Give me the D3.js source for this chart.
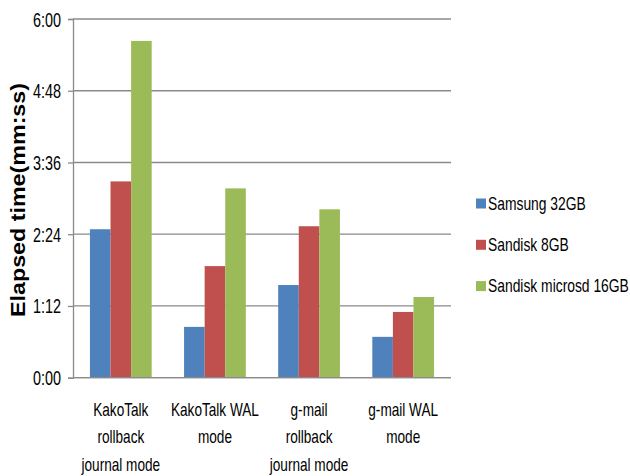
<!DOCTYPE html>
<html><head><meta charset="utf-8">
<script src="https://cdn.jsdelivr.net/npm/d3@7/dist/d3.min.js"></script>
<style>body{margin:0;background:#fff}svg{display:block}</style>
</head><body>
<svg id="c" width="630" height="476"></svg>
<script>
const categories = [
  ["KakoTalk","rollback","journal mode"],
  ["KakoTalk WAL","mode"],
  ["g-mail","rollback","journal mode"],
  ["g-mail WAL","mode"]
];
const seriesNames = ["Samsung 32GB","Sandisk 8GB","Sandisk microsd 16GB"];
// elapsed seconds per category
const samsung32 = [149, 51, 93, 41];
const sandisk8 = [197, 112, 152, 66];
const microsd16 = [338, 190, 169, 81];
const seriesValues = [samsung32, sandisk8, microsd16];
const colors = ["#4F81BD","#C0504D","#9BBB59"];
const yTicks = [0, 72, 144, 216, 288, 360];
const yTickLabels = ["0:00","1:12","2:24","3:36","4:48","6:00"];
const yTitle = "Elapsed time(mm:ss)";

const font = "'Liberation Sans',Arial,sans-serif";
const svg = d3.select("#c");
const L = 73, R = 451, T = 19, B = 377.7;

function condense(sel, f) {
  sel.each(function () {
    const w = this.getComputedTextLength();
    d3.select(this).attr("textLength", w * f).attr("lengthAdjust", "spacingAndGlyphs");
  });
}

const x0 = d3.scaleBand().domain(d3.range(categories.length)).range([L, R])
  .paddingInner(0.344).paddingOuter(0.18);
const x1 = d3.scaleBand().domain(d3.range(seriesNames.length)).range([0, x0.bandwidth()]);
const y = d3.scaleLinear().domain([0, 360]).range([B, T]);

// gridlines
svg.append("g").selectAll("line").data(yTicks).join("line")
  .attr("x1", L).attr("x2", R).attr("y1", d => y(d)).attr("y2", d => y(d))
  .attr("stroke", "#8a8a8a").attr("stroke-width", 1.3);

// bars
const g = svg.append("g").selectAll("g").data(categories).join("g")
  .attr("transform", (d, i) => `translate(${x0(i)},0)`);
g.selectAll("rect").data((d, i) => seriesValues.map((s, k) => ({k, v: s[i]}))).join("rect")
  .attr("x", d => x1(d.k)).attr("width", x1.bandwidth())
  .attr("y", d => y(d.v)).attr("height", d => y(0) - y(d.v))
  .attr("fill", d => colors[d.k]);

// y axis
const yAxis = d3.axisLeft(y).tickValues(yTicks).tickFormat((d, i) => yTickLabels[i]).tickSize(5).tickPadding(7);
const ya = svg.append("g").attr("transform", `translate(${L},0)`).call(yAxis);
ya.select(".domain").attr("stroke", "#8a8a8a").attr("stroke-width", 1.3);
ya.selectAll(".tick line").attr("stroke", "#8a8a8a").attr("stroke-width", 1.3);
ya.selectAll(".tick text").attr("font-family", font).attr("font-size", 19.5).attr("fill", "#000").attr("dy", "0.36em")
  .call(condense, 0.8 * 18 / 19.5);

// x axis line
svg.append("line").attr("x1", L).attr("x2", R).attr("y1", B).attr("y2", B)
  .attr("stroke", "#8a8a8a").attr("stroke-width", 1.3);

// category labels
const lines = [];
categories.forEach((c, i) => c.forEach((t, j) => lines.push({t, i, j})));
svg.append("g").selectAll("text").data(lines).join("text")
  .attr("font-family", font).attr("font-size", 18.5).attr("fill", "#000")
  .attr("text-anchor", "middle")
  .attr("x", d => x0(d.i) + x0.bandwidth() / 2)
  .attr("y", d => 415.5 + d.j * 27.5)
  .text(d => d.t)
  .call(condense, 0.8 * 17 / 18.5);

// y title
svg.append("text").attr("transform", "translate(25,200) rotate(-90)")
  .attr("text-anchor", "middle").attr("font-family", font)
  .attr("font-weight", "bold").attr("font-size", 20.5)
  .attr("textLength", 234).attr("lengthAdjust", "spacingAndGlyphs")
  .text(yTitle);

// legend
const lg = svg.append("g").selectAll("g").data(seriesNames).join("g")
  .attr("transform", (d, i) => `translate(476,${198.5 + i * 41.3})`);
lg.append("rect").attr("width", 10).attr("height", 10).attr("fill", (d, i) => colors[i]);
lg.append("text").attr("transform", "translate(12,11) scale(0.77,1)")
  .attr("font-family", font)
  .attr("font-size", 18).attr("fill", "#000").text(d => d);
</script>
</body></html>
